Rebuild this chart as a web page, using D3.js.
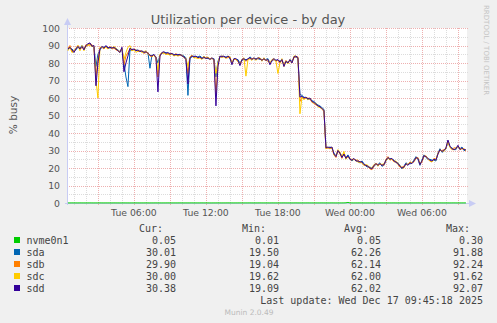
<!DOCTYPE html>
<html>
<head>
<meta charset="utf-8">
<script src="https://cdn.jsdelivr.net/npm/d3@7"></script>
<style>
  html, body { margin: 0; padding: 0; background: #f0f0f0; }
  svg { display: block; }
  text { font-family: "DejaVu Sans", sans-serif; }
  .mono { font-family: "DejaVu Sans Mono", monospace; font-size: 10px; fill: #444; }
</style>
</head>
<body>
<div id="chart"></div>
<script>
// Munin "diskstats_utilization" day graph, 10 min samples from Tue 00:30
var DEVICES = ['nvme0n1', 'sda', 'sdb', 'sdc', 'sdd'];
var COLORS = ['#00cc00', '#0066b3', '#ff8000', '#ffcc00', '#330099'];
var Y_TICKS = [0, 10, 20, 30, 40, 50, 60, 70, 80, 90, 100];

var nvme0n1 = [
  0.05,0.04,0.06,0.05,0.05,0.04,0.06,0.05,0.05,0.04, 0.05,0.06,0.05,0.04,0.05,0.05,0.06,0.05,0.04,0.05,
  0.05,0.05,0.04,0.06,0.05,0.05,0.04,0.05,0.06,0.05, 0.05,0.04,0.05,0.05,0.06,0.05,0.04,0.05,0.05,0.06,
  0.05,0.04,0.05,0.05,0.06,0.05,0.05,0.04,0.05,0.05, 0.06,0.05,0.04,0.05,0.05,0.05,0.06,0.05,0.04,0.05,
  0.05,0.05,0.06,0.04,0.05,0.05,0.05,0.06,0.05,0.05, 0.05,0.04,0.04,0.05,0.05,0.06,0.05,0.04,0.05,0.05,
  0.06,0.05,0.05,0.04,0.05,0.05,0.06,0.05,0.04,0.05, 0.05,0.06,0.05,0.04,0.05,0.05,0.06,0.05,0.05,0.05,
  0.05,0.04,0.06,0.05,0.05,0.04,0.05,0.05,0.06,0.05, 0.05,0.05,0.04,0.05,0.06,0.05,0.05,0.04,0.05,0.05,
  0.06,0.05,0.05,0.04,0.05,0.05,0.05,0.06,0.05,0.04, 0.05,0.05,0.06,0.05,0.04,0.05,0.05,0.05,0.06,0.12,
  0.30,0.08,0.05,0.04,0.05,0.05,0.06,0.05,0.05,0.04, 0.05,0.05,0.06,0.05,0.04,0.05,0.05,0.06,0.05,0.05,
  0.04,0.05,0.05,0.06,0.05,0.05,0.04,0.05,0.05,0.06, 0.05,0.04,0.05,0.05,0.05,0.06,0.05,0.04,0.05,0.05,
  0.06,0.05,0.05,0.04,0.05,0.05,0.06,0.05,0.05,0.05, 0.05,0.04,0.05,0.06,0.05,0.05,0.04,0.05,0.05,0.05];
var sda = [
  87.5,88.5,88,87,87.5,89,88.5,90,88,89.5, 90.5,91,90,89.5,78,85,87.5,89,89,89.5,
  89,88.5,89,88.5,88.5,87.5,86.5,88,80,72, 66.5,87,88,87.5,87.5,87,87,86.5,86.5,86,
  86,77,84.5,84.5,83.5,80,84.5,85.5,86,86, 85.5,85.5,85,85,84.5,85,84.5,84.5,84,83,
  61.5,82.5,83.5,84,83.5,83.5,84,83,83,83, 82.5,82.5,82.5,82.5,72,81,83.5,84,83.5,83.5,
  83.5,82.5,80,82,82,82,80,81.5,82,82, 82,83.5,82.5,82.5,82.5,82.5,82,82,82,82,
  82.5,80,81,82,81.5,81.5,81,81.5,79.5,80.5, 80.5,81.5,81,83,83.5,82.5,62,61.5,60.5,60,
  59,59.5,58.5,58,57,56,55.5,54.5,53.5,32, 31.5,32,31.5,28.5,27,29.5,29,26.5,27.5,26,
  27.5,25.5,24,25,24.5,23.5,23,24,22.5,21, 20.5,20.5,20,21,22,22,23,21,21.5,24,
  25.5,25.5,25,24.5,23,23,21.5,19.5,21,23, 22,22.5,23,24.5,26.5,25,21.5,24.5,27.5,26,
  25,25,24.5,24.5,24,28.5,31,29,29.5,31, 35,32,31.5,30.5,30.5,32.5,31,32,30,30];
var sdb = [
  88.5,90,86.5,87,88.5,90,87.5,89,88,90.5, 90,91,90.5,89,72,82,88.5,89,88,89.5,
  88,89.5,88,88.5,87.5,87,86.5,88.5,79,84, 86,88,87,88,87.5,86.5,87,86.5,85.5,86,
  86,84,83.5,84.5,83.5,72,84.5,85.5,86,85, 85.5,85,85.5,84,85.5,84,84.5,84.5,83,82.5,
  74,83.5,84.5,83,83.5,83,83,82.5,83,83, 83,82.5,82.5,82,62,79,83.5,84,83.5,83,
  83,83.5,80,82,82,81,79,82,82,81, 82,82.5,82.5,82.5,82,82.5,82.5,82,82,81.5,
  81,80,81.5,82,81,81.5,80,81.5,79,81.5, 80,81.5,80.5,83,83.5,83.5,58,60.5,59.5,60,
  60,59.5,57.5,57,56,55.5,55,53.5,52.5,31, 31.5,31,31.5,27.5,26,30,28,25.5,28.5,25.5,
  26.5,25,25,25,24.5,24.5,23.5,23,21.5,21.5, 21,19.5,19,21,22.5,22,22,22,21.5,25,
  26.5,24.5,25,23.5,23.5,22,20.5,20.5,21,22, 22,23.5,23,23.5,25.5,26,22,23.5,26.5,27,
  25,24,23.5,25.5,25,28,30,30,30.5,31, 35.5,32,30.5,31.5,31.5,32.5,31,31,31,29.9];
var sdc = [
  87,89,86,86.5,88,90,87,90,87,89.5, 90.5,90,89.5,89.5,70,60,89,89,88.5,89,
  88,89,88.5,89.5,88.5,87,86,88.5,82,86, 89,90,87,87.5,86,87,87,86,86.5,87,
  85,84.5,84,84.5,82.5,76,85,86,85.5,85, 85,84.5,85,84,84.5,84,85,84,83.5,82.5,
  78,83.5,84,83,83,82.5,83,82,84,82.5, 83.5,82,83,81.5,74,80,84,83,84,82.5,
  84,83.5,79.5,82.5,82,81,79,82,83,72.5, 82,82.5,81.5,83,81.5,83,83,81,83,81.5,
  82,80,82,82.5,81,74,80,82.5,78,81, 79.5,82,80,84,84,83,51,60.5,59,60.5,
  59,60,58,57,57,55,54.5,54,53,31, 32,31,32,27.5,27,30.5,29,26.5,29.5,25,
  26.5,25,24.5,25,24,23.5,23,23,21.5,22, 21.5,20,20,22,22.5,21,22.5,22,22.5,24,
  25.5,25,25,24,24,22.5,21.5,20,20,22.5, 22,23,23,24,26,25.5,22.5,24,27,26.5,
  25.5,24,23.5,25,24.5,28.5,30.5,29.5,29.5,31.5, 35,32,30.5,30.5,31,32.5,30.5,31,31,30];
var sdd = [
  88,89,87.5,86,88,89.5,88,89.5,87.5,90, 91,91.5,89.5,90,67,80,88,89.5,88.5,90,
  88.5,89,88.5,89,88,87,86,89,75,80, 84,88.5,87.5,88,87,87.5,86.5,87,86,86.5,
  85.5,84.5,84,85,83,63.5,84,86,86.5,85.5, 86,85,85.5,84.5,85,84.5,85,84,83.5,82,
  68,83,84,83.5,84,83,83.5,82.5,83.5,82.5, 83,82,83,82,55.5,78,84,83.5,84,83,
  84,83,79,82.5,82.5,81.5,78.5,82,82.5,81.5, 82.5,83,82,83,82,83,82.5,81.5,82.5,81.5,
  82,79,81.5,82.5,81.5,82,80.5,82,78,81, 80,82,80,83.5,84,83,60.5,61,60,60.5,
  59.5,60,58,57.5,56.5,55.5,55,54,53,31.5, 32,31.5,32,28,26.5,30,28.5,26,28,25.5,
  27,25,24.5,25.5,24,24,23.5,23.5,22,21.5, 21,20,19.5,21.5,22.5,21.5,22.5,21.5,22,24.5,
  26,25,25.5,24,23.5,22.5,21,20,20.5,22.5, 21.5,23,22.5,24,26,25.5,22,24,27,26.5,
  25.5,24.5,24,25,24.5,28,30.5,29.5,30,31.5, 36,32.5,31,30.5,31,33,30.5,31.5,30.5,30.4];

var CUR = ['0.05', '30.01', '29.90', '30.00', '30.38'];
var MIN = ['0.01', '19.50', '19.04', '19.62', '19.09'];
var AVG = ['0.05', '62.26', '62.14', '62.00', '62.02'];
var MAX = ['0.30', '91.88', '92.24', '91.62', '92.07'];

var SERIES = [nvme0n1, sda, sdb, sdc, sdd];
var T0 = new Date(2025, 11, 16, 0, 30, 0);
var STEP = 10 * 60 * 1000;

var W = 497, H = 323;
var pLeft = 67, pRight = 467, pTop = 28, pBottom = 203;

var svg = d3.select('#chart').append('svg')
  .attr('width', W).attr('height', H);

svg.append('rect').attr('width', W).attr('height', H).attr('fill', '#f0f0f0');

var x = d3.scaleTime()
  .domain([new Date(2025, 11, 16, 0, 25, 18), new Date(2025, 11, 17, 9, 45, 18)])
  .range([pLeft, pRight]);
var y = d3.scaleLinear().domain([0, 100]).range([pBottom, pTop]);

svg.append('rect')
  .attr('x', pLeft).attr('y', pTop)
  .attr('width', pRight - pLeft).attr('height', pBottom - pTop)
  .attr('fill', '#ffffff');

// grid: minor (gray) then major (red)
var grid = svg.append('g').attr('shape-rendering', 'crispEdges');
var minorColor = '#dcdcdc', majorColor = '#eeb0b0';
var minorY = d3.range(5, 100, 10);
grid.selectAll('.hmin').data(minorY).enter().append('line')
  .attr('x1', pLeft).attr('x2', pRight + 1)
  .attr('y1', function (d) { return Math.round(y(d)) + 0.5; })
  .attr('y2', function (d) { return Math.round(y(d)) + 0.5; })
  .attr('stroke', minorColor).attr('stroke-dasharray', '1,1');
var hours = x.ticks(d3.timeHour.every(1)).filter(function (d) { return d.getHours() % 3 !== 0; });
grid.selectAll('.vmin').data(hours).enter().append('line')
  .attr('x1', function (d) { return Math.round(x(d)) + 0.5; })
  .attr('x2', function (d) { return Math.round(x(d)) + 0.5; })
  .attr('y1', pTop).attr('y2', pBottom + 2)
  .attr('stroke', minorColor).attr('stroke-dasharray', '1,1');
grid.selectAll('.hmaj').data(Y_TICKS.slice(1)).enter().append('line')
  .attr('x1', pLeft).attr('x2', pRight + 1)
  .attr('y1', function (d) { return Math.round(y(d)) + 0.5; })
  .attr('y2', function (d) { return Math.round(y(d)) + 0.5; })
  .attr('stroke', majorColor).attr('stroke-dasharray', '1,1');
var majors = x.ticks(d3.timeHour.every(3));
grid.selectAll('.vmaj').data(majors).enter().append('line')
  .attr('x1', function (d) { return Math.round(x(d)) + 0.5; })
  .attr('x2', function (d) { return Math.round(x(d)) + 0.5; })
  .attr('y1', pTop).attr('y2', pBottom + 2)
  .attr('stroke', majorColor).attr('stroke-dasharray', '1,1');

// axes with arrows
var axisColor = '#c8ccf4';
svg.append('line').attr('x1', pLeft + 0.5).attr('x2', pLeft + 0.5)
  .attr('y1', pTop - 4).attr('y2', pBottom + 2)
  .attr('stroke', axisColor).attr('shape-rendering', 'crispEdges');
svg.append('line').attr('x1', pLeft - 2).attr('x2', pRight + 2)
  .attr('y1', pBottom + 0.5).attr('y2', pBottom + 0.5)
  .attr('stroke', axisColor).attr('shape-rendering', 'crispEdges');
svg.append('path')
  .attr('d', 'M' + (pLeft - 3) + ',' + (pTop - 3) + 'L' + (pLeft + 0.5) + ',' + (pTop - 10) + 'L' + (pLeft + 4) + ',' + (pTop - 3) + 'Z')
  .attr('fill', axisColor);
svg.append('path')
  .attr('d', 'M' + (pRight + 2) + ',' + (pBottom - 3) + 'L' + (pRight + 9) + ',' + (pBottom + 0.5) + 'L' + (pRight + 2) + ',' + (pBottom + 4) + 'Z')
  .attr('fill', axisColor);

// tick labels
svg.append('g').selectAll('text').data(Y_TICKS).enter().append('text')
  .attr('x', 60).attr('y', function (d) { return y(d) + 3.5; })
  .attr('text-anchor', 'end').attr('font-size', 9.3).attr('fill', '#555')
  .text(function (d) { return d; });

var labelTicks = x.ticks(d3.timeHour.every(6));
var fmt = d3.timeFormat('%a %H:%M');
svg.append('g').selectAll('text').data(labelTicks).enter().append('text')
  .attr('x', function (d) { return x(d); }).attr('y', 216)
  .attr('text-anchor', 'middle').attr('font-size', 9.3).attr('fill', '#555')
  .text(function (d) { return fmt(d); });

// series lines (drawn in munin order, sdd on top)
var line = d3.line()
  .defined(function (d) { return d != null; })
  .x(function (d, i) { return x(new Date(T0.getTime() + i * STEP)); })
  .y(function (d) { return y(d); });

SERIES.forEach(function (s, k) {
  svg.append('path')
    .attr('d', line(s))
    .attr('fill', 'none')
    .attr('stroke', COLORS[k])
    .attr('stroke-width', 1)
    .attr('stroke-linejoin', 'round');
});

// title and labels
svg.append('text').attr('x', 248).attr('y', 23.5)
  .attr('text-anchor', 'middle').attr('font-size', 13).attr('fill', '#555')
  .text('Utilization per device - by day');

svg.append('text')
  .attr('transform', 'translate(17,115) rotate(-90)')
  .attr('text-anchor', 'middle').attr('font-size', 10.5).attr('fill', '#555')
  .text('% busy');

svg.append('text')
  .attr('transform', 'translate(484,5) rotate(90)')
  .attr('text-anchor', 'start').attr('font-size', 7).attr('fill', '#c4c4c4')
  .text('RRDTOOL / TOBI OETIKER');

// legend
var lg = svg.append('g');
[['Cur:', 163], ['Min:', 266], ['Avg:', 368], ['Max:', 470]].forEach(function (h) {
  lg.append('text').attr('class', 'mono').attr('x', h[1]).attr('y', 231.5)
    .attr('text-anchor', 'end').text(h[0]);
});

DEVICES.forEach(function (name, i) {
  var cy = 240 + i * 12;
  lg.append('rect').attr('x', 14).attr('y', cy - 3).attr('width', 6).attr('height', 6)
    .attr('fill', COLORS[i]);
  lg.append('text').attr('class', 'mono').attr('x', 26.5).attr('y', cy + 3.5).text(name);
  [[CUR, 176], [MIN, 279], [AVG, 381], [MAX, 483]].forEach(function (c) {
    lg.append('text').attr('class', 'mono').attr('x', c[1]).attr('y', cy + 3.5)
      .attr('text-anchor', 'end').text(c[0][i]);
  });
});

lg.append('text').attr('class', 'mono').attr('x', 483).attr('y', 303.5)
  .attr('text-anchor', 'end').text('Last update: Wed Dec 17 09:45:18 2025');

svg.append('text').attr('x', 249).attr('y', 314.5)
  .attr('text-anchor', 'middle').attr('font-size', 7.5).attr('fill', '#bbbbbb')
  .text('Munin 2.0.49');
</script>
</body>
</html>
